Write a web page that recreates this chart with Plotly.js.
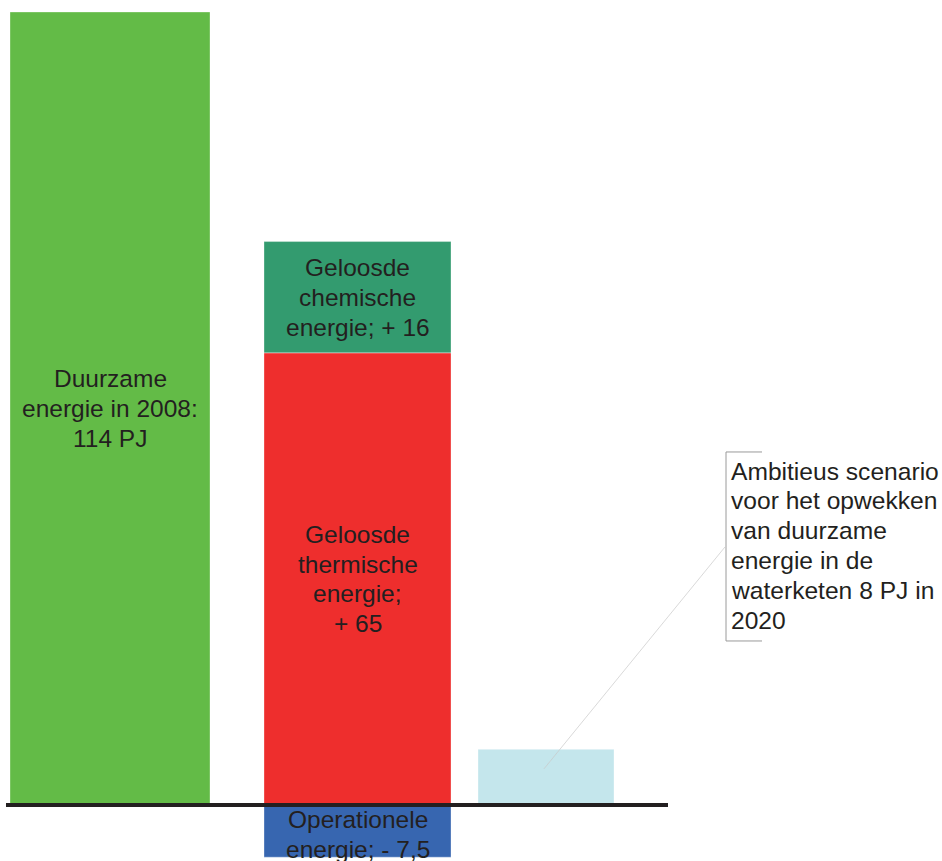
<!DOCTYPE html>
<html>
<head>
<meta charset="utf-8">
<script src="https://cdn.plot.ly/plotly-3.0.1.min.js"></script>
<style>
  html, body { margin: 0; padding: 0; background: #ffffff; }
  #chart { width: 942px; height: 861px; }
</style>
</head>
<body>
<div id="chart"></div>
<script>
// ---- data ----
const seriesNames = ["Duurzame energie in 2008", "Geloosde thermische energie", "Geloosde chemische energie", "Operationele energie", "Ambitieus scenario 2020"];
const duurzame2008 = [114];
const thermisch = [65];
const chemisch = [16];
const operationeel = [-7.5];
const scenario2020 = [8];

const labelDuurzame = ["Duurzame", "energie in 2008:", "114 PJ"];
const labelThermisch = ["Geloosde", "thermische", "energie;", "+ 65"];
const labelChemisch = ["Geloosde", "chemische", "energie; + 16"];
const labelOperationeel = ["Operationele", "energie; - 7,5"];
const labelScenario = ["Ambitieus scenario", "voor het opwekken", "van duurzame", "energie in de", "waterketen 8 PJ in", "2020"];

// ---- layout / positions (pixel-like x axis) ----
const posA = 110, wA = 200;
const posB = 357.5, wB = 187;
const posC = 546, wC = 136;
const textColor = "#231f20";
const font = "Liberation Sans, Arial, Helvetica, sans-serif";
const lineGap = 29.8;

const edge = { width: 0.6, color: "rgba(255,255,255,0.55)" };

const traces = [
  { type: "bar", name: seriesNames[0], x: [posA], y: duurzame2008, width: [wA], marker: { color: "#63bb47", line: edge } },
  { type: "bar", name: seriesNames[1], x: [posB], y: thermisch, width: [wB], marker: { color: "#ee2e2d", line: edge } },
  { type: "bar", name: seriesNames[2], x: [posB], y: chemisch, width: [wB], marker: { color: "#339b6f", line: edge } },
  { type: "bar", name: seriesNames[3], x: [posB], y: operationeel, width: [wB], marker: { color: "#3766b0", line: edge } },
  { type: "bar", name: seriesNames[4], x: [posC], y: scenario2020, width: [wC], marker: { color: "#c4e6ec", line: edge } }
];
traces.forEach(t => { t.hoverinfo = "none"; t.textposition = "none"; });

function lines(arr, x, yMid, size, opts) {
  const n = arr.length;
  return arr.map((s, i) => Object.assign({
    x: x, y: yMid, xref: "x", yref: "y",
    text: s, showarrow: false,
    xanchor: "center", yanchor: "middle",
    yshift: -((i - (n - 1) / 2) * lineGap),
    font: { family: font, size: size, color: textColor },
    borderpad: 0
  }, opts || {}));
}

const annotations = []
  .concat(lines(labelDuurzame, posA, duurzame2008[0] / 2, 24.5))
  .concat(lines(labelThermisch, posB, thermisch[0] / 2, 24.5))
  .concat(lines(labelChemisch, posB, thermisch[0] + chemisch[0] / 2, 24.5))
  .concat(lines(labelOperationeel, posB, operationeel[0] / 2 - 0.45, 24.5))
  .concat(lines(labelScenario, 729.5, 37.3, 24.6, { xanchor: "left", align: "left" }));

const shapes = [
  // baseline
  { type: "line", xref: "x", yref: "y", x0: 6, x1: 668, y0: 0, y1: 0, line: { color: "#231f20", width: 4 }, layer: "above" },
  // leader line
  { type: "line", xref: "x", yref: "y", x0: 544, x1: 725, y0: 5.2, y1: 37.1, line: { color: "#c8c8c8", width: 0.7 }, layer: "above" },
  // bracket
  { type: "path", xref: "x", yref: "y", path: "M 762 50.75 L 726 50.75 L 726 23.58 L 762 23.58", line: { color: "#9a9a9a", width: 1 }, layer: "above" }
];

const layout = {
  width: 942, height: 861,
  margin: { l: 0, r: 0, t: 12, b: 0, pad: 0 },
  paper_bgcolor: "#ffffff", plot_bgcolor: "#ffffff",
  barmode: "relative",
  showlegend: false,
  xaxis: { range: [0, 942], visible: false, showgrid: false, zeroline: false, fixedrange: true },
  yaxis: { range: [-8.05, 114], visible: false, showgrid: false, zeroline: false, fixedrange: true },
  annotations: annotations,
  shapes: shapes,
  font: { family: font, color: textColor }
};

Plotly.newPlot("chart", traces, layout, { displayModeBar: false, staticPlot: true });
</script>
</body>
</html>
